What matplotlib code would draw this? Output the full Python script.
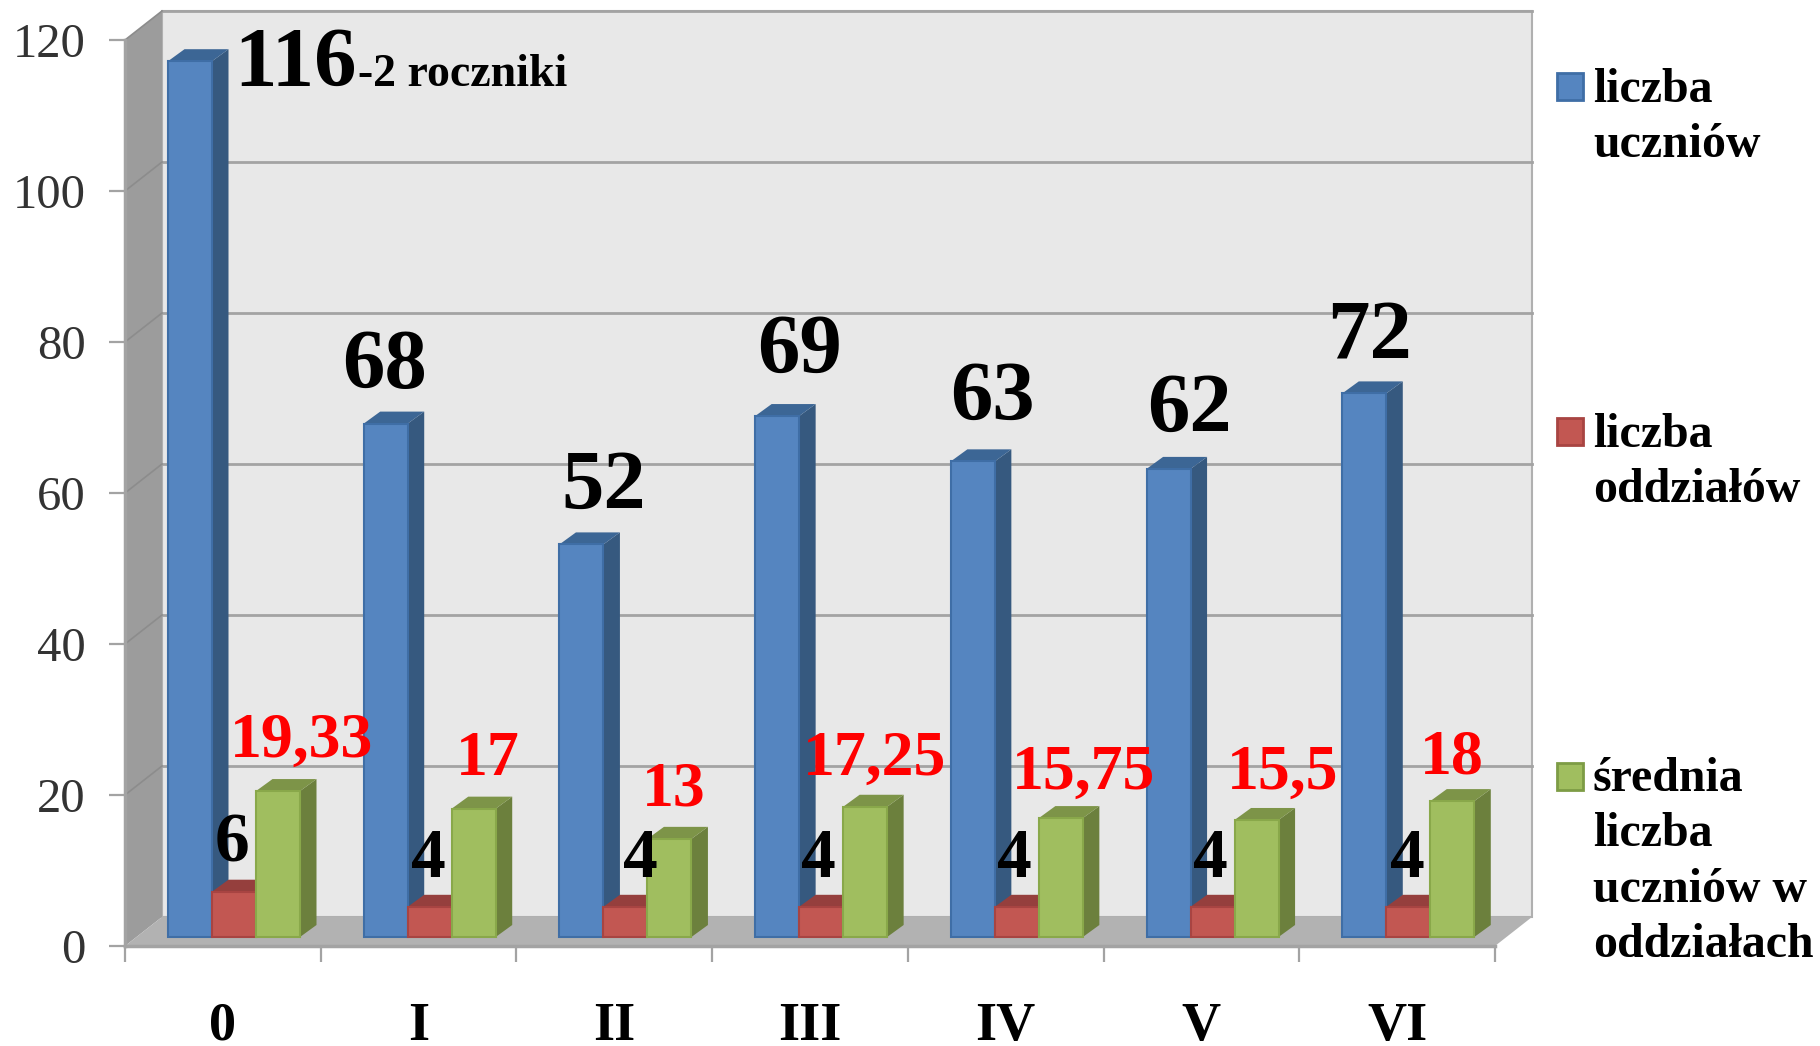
import matplotlib
matplotlib.use('Agg')
import matplotlib.pyplot as plt
from matplotlib.patches import Polygon, Rectangle
from matplotlib.ticker import FixedLocator, NullFormatter

plt.rcParams['font.family'] = ['Liberation Serif', 'DejaVu Serif']

# data
categories = ['0', 'I', 'II', 'III', 'IV', 'V', 'VI']
uczniow = [116, 68, 52, 69, 63, 62, 72]
oddzialow = [6, 4, 4, 4, 4, 4, 4]
srednia = [19.33, 17, 13, 17.25, 15.75, 15.5, 18]
srednia_labels = ['19,33', '17', '13', '17,25', '15,75', '15,5', '18']
y_ticks = [0, 20, 40, 60, 80, 100, 120]

# label anchors in pixels of the picture (centre x, baseline y)
uczniow_pos = [None, (385, 388), (604, 509), (800, 373), (992, 420), (1189, 432), (1370, 359)]
oddzialow_pos = [(232, 862), (428, 877), (640, 877), (818, 877), (1014, 877), (1210, 877), (1407, 877)]
srednia_pos = [(302, 757), (488, 775), (674, 805), (875, 775), (1084, 789), (1283, 789), (1452, 773)]

W, H = 1820, 1046
fig = plt.figure(figsize=(W / 100, H / 100), dpi=100, facecolor='white')

# axes = front plane of the fake 3d box
x0, x1, y0, y1 = 125, 1495, 946, 40
ax = fig.add_axes([x0 / W, 1 - y0 / H, (x1 - x0) / W, (y0 - y1) / H], facecolor='none')
ax.set_xlim(0, 7)
ax.set_ylim(0, 120)
px_x = 7 / (x1 - x0)
px_y = 120 / (y0 - y1)

grey = '#a3a3a3'
dx, dy = 37 * px_x, 29 * px_y


def poly(pts, color, z, edge=None, lw=0):
    ax.add_patch(Polygon(pts, closed=True, facecolor=color, edgecolor=edge or color,
                         linewidth=lw, zorder=z, clip_on=False))


# walls and floor
poly([(dx, dy), (7 + dx, dy), (7 + dx, 120 + dy), (dx, 120 + dy)], '#e8e8e8', 0.5, '#b0b0b0', 1.5)
poly([(0, 0), (dx, dy), (dx, 120 + dy), (0, 120)], '#9c9c9c', 0.6)
poly([(0, 0), (7, 0), (7 + dx, dy), (dx, dy)], '#b2b2b2', 0.7)
for t in y_ticks[1:]:
    ax.plot([dx, 7 + dx], [t + dy, t + dy], color=grey, lw=2, zorder=0.8, clip_on=False)
    ax.plot([0, dx], [t, t + dy], color='#8c8c8c', lw=1.2, zorder=0.8, clip_on=False)

# bars
bar_w = 44 * px_x
bar_start = 43 * px_x
base = 9 * px_y
side_x, side_y = 16.5 * px_x, 12 * px_y


def bars(values, slot, face, side, top, edge, z):
    xs = [i + bar_start + slot * bar_w for i in range(len(values))]
    ax.bar(xs, values, width=bar_w, bottom=base, align='edge', color=face,
           edgecolor=edge, linewidth=1.5, zorder=z + 0.2, clip_on=False)
    for x, v in zip(xs, values):
        r = x + bar_w
        t = base + v
        poly([(r, base), (r + side_x, base + side_y), (r + side_x, t + side_y), (r, t)], side, z)
        poly([(x, t), (r, t), (r + side_x, t + side_y), (x + side_x, t + side_y)], top, z + 0.1)


bars(uczniow, 0, '#5585c0', '#36597f', '#3c6695', '#3f6ea6', 3)
bars(oddzialow, 1, '#c25752', '#953f3d', '#953f3d', '#a84442', 4)
bars(srednia, 2, '#a0be5f', '#6c803d', '#7d9448', '#89a84a', 5)

# axes lines and ticks
for s in ['top', 'right']:
    ax.spines[s].set_visible(False)
for s in ['left', 'bottom']:
    ax.spines[s].set_color(grey)
    ax.spines[s].set_linewidth(2.5)
ax.set_yticks(y_ticks)
ax.tick_params(axis='y', length=11.5, width=1.6, color=grey, pad=17, labelsize=35, labelcolor='#333333')
ax.xaxis.set_major_locator(FixedLocator(range(8)))
ax.xaxis.set_major_formatter(NullFormatter())
ax.xaxis.set_minor_locator(FixedLocator([i + 0.5 for i in range(7)]))
ax.set_xticklabels(categories, minor=True, fontweight='bold', fontsize=39)
ax.tick_params(axis='x', which='major', length=11.5, width=1.6, color=grey)
ax.tick_params(axis='x', which='minor', length=0, pad=40)


def label(pos, s, size, color='black', ha='center'):
    fig.text(pos[0] / W, 1 - pos[1] / H, s, fontsize=size, fontweight='bold', color=color,
             ha=ha, va='baseline', zorder=10)


# value labels
label((234, 86), str(uczniow[0]), 61, ha='left')
label((358, 86), '-2 roczniki', 33, ha='left')
for i in range(1, 7):
    label(uczniow_pos[i], str(uczniow[i]), 61)
for i in range(7):
    label(oddzialow_pos[i], str(oddzialow[i]), 50)
    label(srednia_pos[i], srednia_labels[i], 46, color='#ff0000')

# legend
legend_items = [
    ('#5585c0', '#3f6ea6', 73, 102, ['liczba', 'uczniów']),
    ('#c25752', '#a84442', 418, 447, ['liczba', 'oddziałów']),
    ('#a0be5f', '#7d9c45', 763, 791, ['średnia', 'liczba', 'uczniów w', 'oddziałach']),
]
for face, edge, top_px, first_line, lines in legend_items:
    fig.add_artist(Rectangle((1557 / W, 1 - (top_px + 27) / H), 26 / W, 27 / H, facecolor=face,
                             edgecolor=edge, linewidth=2, transform=fig.transFigure))
    for n, line in enumerate(lines):
        label((1593, first_line + n * 55.3), line, 34.5, ha='left')

fig.savefig('out.png', dpi=100)
